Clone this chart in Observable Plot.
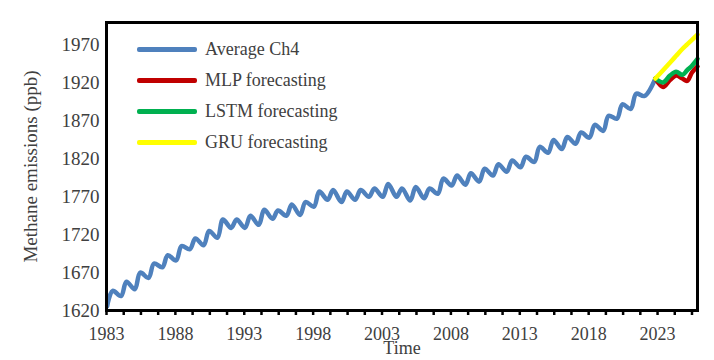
<!DOCTYPE html>
<html><head><meta charset="utf-8">
<script src="https://cdn.jsdelivr.net/npm/d3@7"></script>
<script src="https://cdn.jsdelivr.net/npm/@observablehq/plot@0.6"></script>
<style>
html,body{margin:0;padding:0;background:#fff;}
#wrap{position:relative;width:714px;height:360px;font-family:"Liberation Serif",serif;}
#legend{position:absolute;left:137px;top:34px;font-size:18px;color:#404040;}
#legend .row{display:flex;align-items:center;height:31px;}
#legend .sw{width:60px;height:5px;margin-right:8px;border-radius:2px;}
</style></head><body><div id="wrap"><div id="legend"></div></div>
<script>
// Category labels (years shown on the x axis, one seasonal cycle each)
const years = [1983,1984,1985,1986,1987,1988,1989,1990,1991,1992,1993,1994,1995,1996,1997,1998,1999,2000,2001,2002,
               2003,2004,2005,2006,2007,2008,2009,2010,2011,2012,2013,2014,2015,2016,2017,2018,2019,2020,2021,2022];
// Average CH4: seasonal low and high of each cycle (ppb)
const seasonalLow = [1626,1639,1648,1663,1677,1686,1701,1706,1716,1729,1729,1733,1741,1745,1746,1757,1766,1763,1766,1770,
                     1770,1770,1765,1768,1774,1785,1786,1790,1798,1803,1809,1816,1828,1833,1840,1848,1857,1873,1886,1903];
const seasonalHigh = [1646,1658,1670,1682,1693,1705,1715,1725,1740,1740,1745,1753,1752,1760,1763,1777,1779,1777,1779,1781,
                      1787,1781,1783,1781,1794,1798,1801,1807,1813,1818,1823,1836,1845,1849,1855,1865,1877,1892,1906];
const lastTime = 2022.84, lastValue = 1926;
// Forecasts
const forecastTime = [2022.84, 2023.4, 2023.9, 2024.35, 2024.8, 2025.15, 2025.5, 2025.9];
const mlpForecast  = [1926, 1915, 1924, 1930, 1926, 1923, 1934, 1942];
const lstmForecast = [1926, 1921, 1930, 1935, 1931, 1937, 1943, 1952];
const gruForecast  = [1926, 1937, 1947, 1956, 1965, 1971, 1977, 1984];
// Axis ticks
const xLabelYears = [1983,1988,1993,1998,2003,2008,2013,2018,2023];
const yTicks = [1620,1670,1720,1770,1820,1870,1920,1970];
const seriesNames = ["Average Ch4","MLP forecasting","LSTM forecasting","GRU forecasting"];
const seriesColors = ["#4f81bd","#c00000","#00b050","#ffff00"];

const avg = [];
years.forEach((y, i) => {
  avg.push({t: y + 0.05, v: seasonalLow[i]});
  if (i < seasonalHigh.length) avg.push({t: y + 0.45, v: seasonalHigh[i]});
});
avg.push({t: lastTime, v: lastValue});
const fc = (vals) => forecastTime.map((t, i) => ({t, v: vals[i]}));
const minorTicks = d3.range(1983, 2025.95, 1.25);

const chart = Plot.plot({
  width: 714, height: 360,
  marginLeft: 106, marginRight: 17, marginTop: 22, marginBottom: 50,
  style: {fontFamily: '"Liberation Serif", serif', fontSize: "18px", color: "#404040", background: "white"},
  x: {domain: [1983, 2025.9]},
  y: {domain: [1620, 2000]},
  marks: [
    Plot.axisX({ticks: minorTicks, tickSize: 5, tickFormat: () => "", stroke: "black", strokeWidth: 2.5, label: null}),
    Plot.axisX({ticks: xLabelYears, tickSize: 0, tickPadding: 17, tickFormat: "d", label: "Time", labelArrow: "none", labelAnchor: "center", labelOffset: 43}),
    Plot.axisY({ticks: yTicks, tickSize: 0, tickPadding: 7, tickFormat: "d", label: "Methane emissions (ppb)", labelArrow: "none", labelAnchor: "center", labelOffset: 83, fontSize: 19}),
    Plot.line(avg, {x: "t", y: "v", stroke: seriesColors[0], strokeWidth: 4.5, curve: "catmull-rom"}),
    Plot.line(fc(mlpForecast), {x: "t", y: "v", stroke: seriesColors[1], strokeWidth: 4.5, curve: "catmull-rom"}),
    Plot.line(fc(lstmForecast), {x: "t", y: "v", stroke: seriesColors[2], strokeWidth: 4.5, curve: "catmull-rom"}),
    Plot.line(fc(gruForecast), {x: "t", y: "v", stroke: seriesColors[3], strokeWidth: 4.5, curve: "catmull-rom"}),
    Plot.frame({stroke: "black", strokeWidth: 3})
  ]
});
const wrap = document.getElementById("wrap");
wrap.insertBefore(chart, wrap.firstChild);
const legend = document.getElementById("legend");
seriesNames.forEach((name, i) => {
  const row = document.createElement("div"); row.className = "row";
  const sw = document.createElement("div"); sw.className = "sw"; sw.style.background = seriesColors[i];
  const lab = document.createElement("span"); lab.textContent = name;
  row.appendChild(sw); row.appendChild(lab); legend.appendChild(row);
});
</script></body></html>
